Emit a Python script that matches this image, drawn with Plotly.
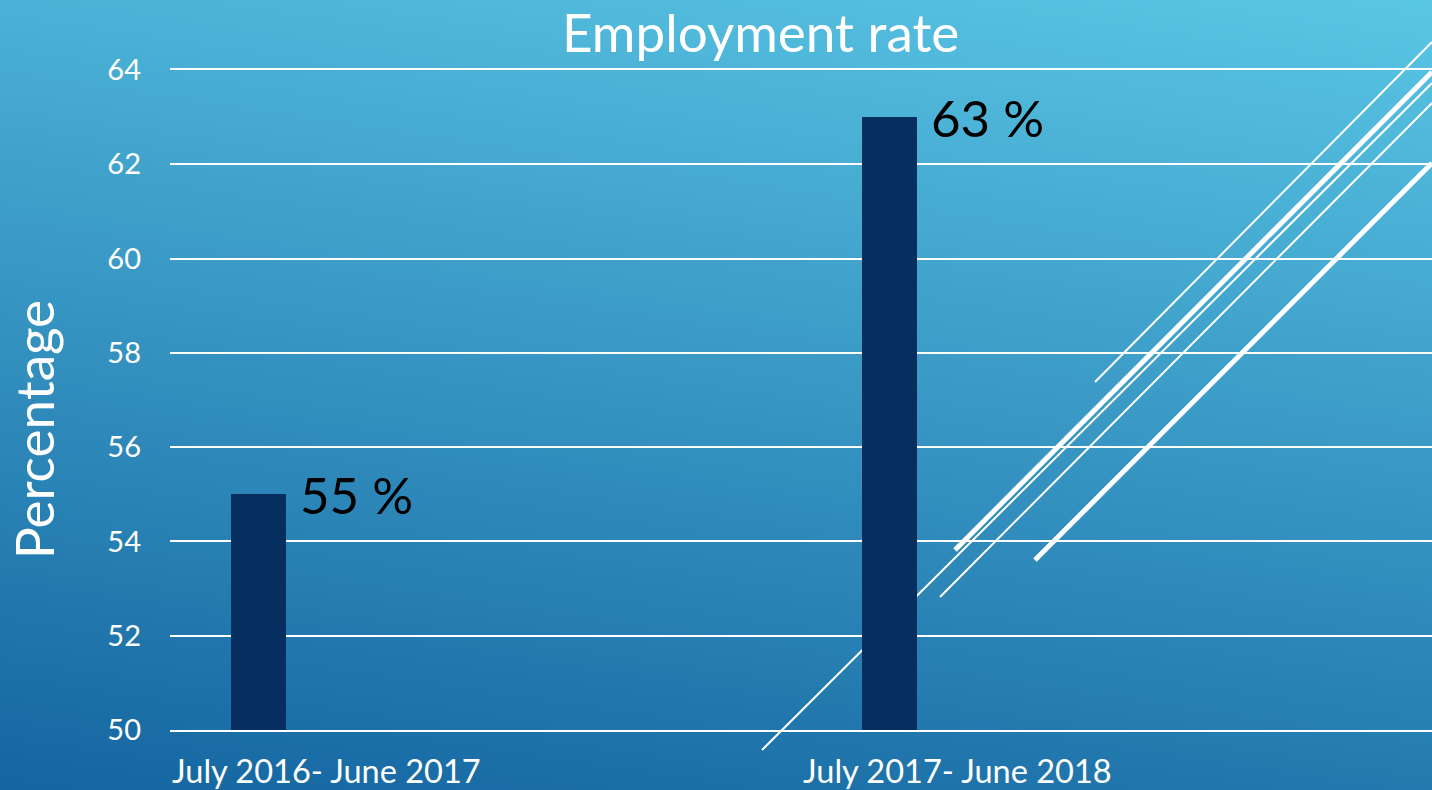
import base64
import plotly.graph_objects as go

# ---- data ----
categories = ["July 2016- June 2017", "July 2017- June 2018"]
values = [55, 63]
y_ticks = [50, 52, 54, 56, 58, 60, 62, 64]
title_text = "Employment rate"
y_title = "Percentage"

W, H = 1432, 790
ML, MR, MT, MB = 170, 0, 70, 60
PW, PH = W - ML - MR, H - MT - MB

FONT = "Lato, 'Open Sans', sans-serif"
BAR_COLOR = "#062E5F"


def px_to_paper(x, y):
    return (x - ML) / PW, (H - MB - y) / PH


# background gradient as an inline SVG image
svg = (
    f"<svg xmlns='http://www.w3.org/2000/svg' width='{W}' height='{H}' viewBox='0 0 {W} {H}' preserveAspectRatio='none'>"
    "<defs><linearGradient id='g' gradientUnits='userSpaceOnUse' x1='0' y1='790' x2='147' y2='-193'>"
    "<stop offset='0' stop-color='#1465A0'/>"
    "<stop offset='1' stop-color='#5AC6E5'/>"
    "</linearGradient></defs>"
    f"<rect x='0' y='0' width='{W}' height='{H}' fill='url(#g)'/></svg>"
)
svg_uri = "data:image/svg+xml;base64," + base64.b64encode(svg.encode()).decode()

bar_width = 0.087
bar_offset = -0.403

fig = go.Figure()
fig.add_trace(go.Bar(
    x=categories,
    y=values,
    width=bar_width,
    offset=bar_offset,
    marker=dict(color=BAR_COLOR, line=dict(width=0)),
    hoverinfo="skip",
))

# decorative diagonal lines (page pixel coordinates -> paper)
deco = [
    ((1095, 382), (1432, 42), 2),
    ((955, 550), (1432, 72), 5),
    ((762, 750), (1432, 83), 2),
    ((940, 597), (1432, 103), 2),
    ((1035, 560), (1432, 163), 5),
]
shapes = []
for (x0, y0), (x1, y1), w in deco:
    a0, b0 = px_to_paper(x0, y0)
    a1, b1 = px_to_paper(x1, y1)
    shapes.append(dict(type="line", xref="paper", yref="paper", x0=a0, y0=b0, x1=a1, y1=b1,
                       line=dict(color="white", width=w), layer="below"))

annotations = []
# value labels
for i, v in enumerate(values):
    annotations.append(dict(
        x=i + bar_offset + bar_width, y=v, xref="x", yref="y",
        text=f"{v} %", showarrow=False, xanchor="left", yanchor="middle", xshift=12,
        font=dict(family=FONT, size=51, color="black"),
    ))
# category labels (left-aligned at band start)
for i, c in enumerate(categories):
    annotations.append(dict(
        x=i - 0.5, y=-40 / PH, xref="x", yref="paper",
        text=c, showarrow=False, xanchor="left", yanchor="middle",
        font=dict(family=FONT, size=32.5, color="white"),
    ))
# title
tx, ty = px_to_paper(760, 31)
annotations.append(dict(x=tx, y=ty, xref="paper", yref="paper", text=title_text, showarrow=False,
                        xanchor="center", yanchor="middle",
                        font=dict(family=FONT, size=53, color="white")))
# y axis title
px_, py_ = px_to_paper(33, 430)
annotations.append(dict(x=px_, y=py_, xref="paper", yref="paper", text=y_title, showarrow=False,
                        textangle=-90, xanchor="center", yanchor="middle",
                        font=dict(family=FONT, size=53, color="white")))

bx, by = px_to_paper(0, 0)
fig.update_layout(
    width=W, height=H,
    margin=dict(l=ML, r=MR, t=MT, b=MB, pad=0),
    paper_bgcolor="rgba(0,0,0,0)",
    plot_bgcolor="rgba(0,0,0,0)",
    showlegend=False,
    bargap=0,
    images=[dict(source=svg_uri, xref="paper", yref="paper", x=bx, y=by,
                 sizex=W / PW, sizey=H / PH, sizing="stretch", xanchor="left", yanchor="top",
                 layer="below")],
    shapes=shapes,
    annotations=annotations,
    xaxis=dict(
        type="category", range=[-0.5, 1.5], showticklabels=False, showgrid=False,
        zeroline=False, showline=True, mirror=True, linecolor="white", linewidth=2,
        ticks="", fixedrange=True,
    ),
    yaxis=dict(
        range=[50, 64], tickvals=y_ticks, ticktext=[str(t) for t in y_ticks],
        showgrid=True, gridcolor="white", gridwidth=2, zeroline=False, showline=False,
        ticks="", ticklabelstandoff=28,
        tickfont=dict(family=FONT, size=29, color="white"), fixedrange=True,
    ),
)

fig.write_html("out.html", config={"displayModeBar": False})
